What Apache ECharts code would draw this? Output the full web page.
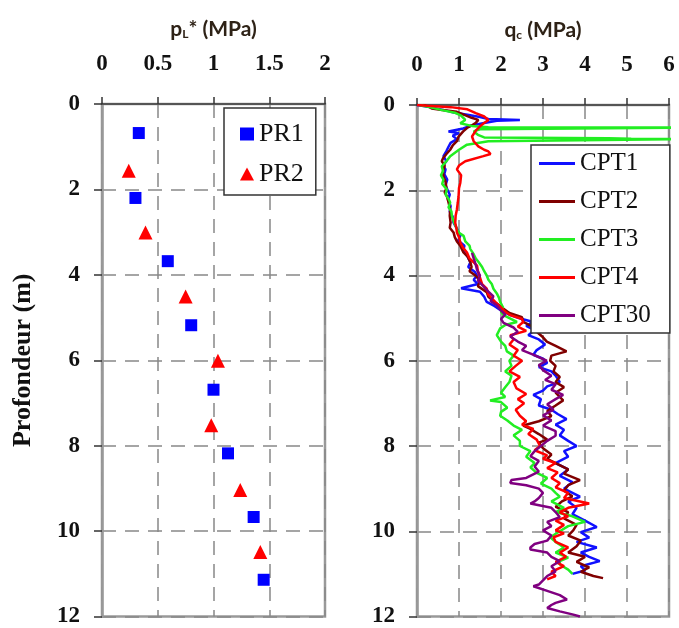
<!DOCTYPE html>
<html><head><meta charset="utf-8">
<script src="https://cdn.jsdelivr.net/npm/echarts@6/dist/echarts.min.js"></script>
<style>html,body{margin:0;padding:0;background:#fff}#c{width:679px;height:628px}</style>
</head><body><div id="c"></div>
<script>
// ---- tick labels ----
const depthTicks = [0, 2, 4, 6, 8, 10, 12];
const plTicks = [0, 0.5, 1, 1.5, 2];
const qcTicks = [0, 1, 2, 3, 4, 5, 6];

// ---- pressuremeter data: [pL* (MPa), depth (m)] ----
const pr1 = [[0.33,0.68],[0.30,2.20],[0.59,3.68],[0.80,5.18],[1.00,6.69],[1.13,8.18],[1.36,9.67],[1.45,11.14]];
const pr2 = [[0.24,1.56],[0.39,3.01],[0.75,4.51],[1.04,6.01],[0.98,7.52],[1.24,9.04],[1.42,10.49]];

// ---- CPT data: [qc (MPa), depth (m)] ----
const cpt1 = [[0.0,0.00],[0.3,0.05],[0.65,0.12],[0.9,0.18],[1.2,0.23],[1.5,0.28],[1.7,0.33],[2.45,0.35],[1.9,0.37],[1.6,0.42],[1.3,0.48],[1.1,0.55],[0.75,0.62],[1.0,0.66],[0.85,0.72],[0.95,0.80],[0.8,0.89],[0.75,0.98],[0.7,1.08],[0.63,1.20],[0.7,1.32],[0.62,1.42],[0.68,1.51],[0.65,1.62],[0.72,1.75],[0.68,1.88],[0.72,1.98],[0.78,2.10],[0.74,2.22],[0.8,2.37],[0.78,2.50],[0.85,2.62],[0.87,2.76],[0.95,2.90],[1.03,3.07],[0.98,3.18],[1.13,3.30],[1.1,3.42],[1.2,3.55],[1.27,3.69],[1.22,3.80],[1.38,3.92],[1.43,4.00],[1.35,4.10],[1.45,4.20],[1.05,4.30],[1.05,4.34],[1.5,4.38],[1.6,4.50],[1.66,4.62],[1.85,4.72],[2.0,4.82],[2.22,4.93],[2.5,5.02],[2.77,5.09],[2.6,5.18],[2.8,5.28],[2.65,5.40],[2.9,5.50],[3.05,5.62],[2.85,5.75],[2.77,5.86],[3.0,5.95],[3.1,6.05],[2.9,6.15],[3.2,6.25],[3.3,6.35],[3.4,6.50],[3.1,6.60],[3.0,6.70],[2.77,6.80],[2.95,6.90],[2.9,7.05],[3.2,7.15],[3.35,7.25],[3.56,7.37],[3.3,7.50],[3.5,7.62],[3.4,7.75],[3.6,7.88],[3.8,8.00],[3.5,8.12],[3.6,8.25],[3.3,8.40],[3.6,8.55],[3.4,8.70],[3.7,8.85],[3.5,9.00],[3.88,9.19],[3.6,9.30],[3.8,9.45],[3.7,9.60],[4.0,9.75],[4.28,9.90],[3.9,10.02],[4.1,10.15],[3.8,10.25],[4.28,10.38],[3.9,10.50],[4.1,10.60],[4.35,10.70],[3.9,10.82],[4.0,10.92],[3.7,11.00]];
const cpt2 = [[0.15,0.00],[0.3,0.05],[0.35,0.08],[0.6,0.12],[0.95,0.16],[1.1,0.22],[1.3,0.30],[1.46,0.35],[1.4,0.42],[1.3,0.48],[1.19,0.54],[1.1,0.62],[0.99,0.74],[0.95,0.85],[0.85,0.95],[0.79,1.05],[0.7,1.15],[0.62,1.25],[0.59,1.32],[0.66,1.42],[0.62,1.55],[0.63,1.67],[0.68,1.80],[0.7,1.95],[0.66,2.05],[0.71,2.14],[0.75,2.28],[0.79,2.45],[0.78,2.60],[0.8,2.76],[0.78,2.88],[0.87,2.99],[0.9,3.10],[0.95,3.20],[1.03,3.30],[1.1,3.45],[1.2,3.55],[1.27,3.69],[1.3,3.80],[1.25,3.90],[1.39,4.00],[1.5,4.12],[1.45,4.25],[1.66,4.39],[1.7,4.50],[1.85,4.62],[2.06,4.78],[2.2,4.88],[2.5,4.98],[2.53,5.09],[2.75,5.20],[2.85,5.32],[3.0,5.45],[3.09,5.55],[3.3,5.65],[3.56,5.78],[3.2,5.88],[3.17,6.00],[3.3,6.12],[3.25,6.25],[3.4,6.38],[3.3,6.50],[3.5,6.62],[3.3,6.75],[3.48,6.93],[3.3,7.05],[3.1,7.18],[3.2,7.30],[2.9,7.42],[2.53,7.52],[2.7,7.60],[2.9,7.72],[3.1,7.85],[2.9,7.92],[3.0,8.05],[3.2,8.20],[3.1,8.30],[3.3,8.40],[3.6,8.55],[3.5,8.65],[3.88,8.80],[3.6,8.92],[3.5,9.05],[3.7,9.18],[3.45,9.30],[3.3,9.43],[3.6,9.55],[3.5,9.70],[3.8,9.85],[3.72,9.98],[3.6,10.10],[3.9,10.22],[3.8,10.35],[3.6,10.50],[4.0,10.60],[3.8,10.72],[4.1,10.85],[3.9,10.95],[4.2,11.05],[4.43,11.10]];
const cpt3 = [[0.05,0.00],[0.3,0.05],[0.6,0.12],[0.9,0.18],[1.05,0.25],[1.15,0.35],[1.03,0.43],[1.3,0.49],[1.7,0.52],[6.3,0.53],[6.3,0.56],[1.5,0.57],[1.35,0.62],[1.45,0.70],[1.6,0.76],[4.55,0.78],[5.1,0.79],[6.3,0.80],[6.3,0.84],[1.7,0.85],[1.19,0.93],[1.0,1.05],[0.79,1.20],[0.7,1.32],[0.59,1.44],[0.62,1.55],[0.57,1.65],[0.63,1.75],[0.6,1.85],[0.71,1.98],[0.68,2.10],[0.75,2.20],[0.79,2.29],[0.75,2.40],[0.82,2.50],[0.83,2.60],[0.88,2.75],[0.95,2.91],[1.0,3.00],[1.11,3.07],[1.15,3.20],[1.25,3.30],[1.27,3.38],[1.35,3.50],[1.4,3.60],[1.47,3.69],[1.55,3.80],[1.6,3.90],[1.66,4.00],[1.7,4.10],[1.78,4.20],[1.82,4.31],[1.9,4.42],[1.95,4.52],[1.98,4.62],[2.05,4.75],[2.0,4.85],[2.06,4.93],[2.2,5.00],[2.38,5.09],[2.1,5.16],[1.98,5.24],[1.94,5.32],[1.9,5.40],[2.0,5.55],[2.1,5.65],[2.14,5.78],[2.3,5.88],[2.2,6.00],[2.25,6.12],[2.1,6.25],[2.25,6.35],[2.2,6.50],[2.1,6.62],[2.0,6.75],[2.1,6.85],[1.74,6.93],[2.0,6.97],[2.15,7.10],[2.0,7.20],[1.98,7.29],[2.15,7.40],[2.3,7.52],[2.5,7.62],[2.3,7.75],[2.45,7.88],[2.45,8.00],[2.7,8.12],[2.6,8.25],[2.8,8.40],[2.7,8.50],[2.85,8.63],[3.1,8.75],[2.95,8.88],[3.2,9.00],[3.3,9.10],[3.4,9.19],[3.2,9.30],[3.5,9.45],[3.3,9.55],[3.7,9.65],[4.0,9.78],[3.6,9.88],[3.4,10.00],[3.17,10.14],[3.3,10.25],[3.5,10.38],[3.3,10.50],[3.6,10.62],[3.4,10.70],[3.4,10.78],[3.6,10.90],[3.7,11.00]];
const cpt4 = [[0.0,0.00],[0.25,0.02],[0.8,0.05],[1.2,0.10],[1.4,0.19],[1.6,0.27],[1.7,0.35],[1.6,0.42],[1.5,0.50],[1.4,0.60],[1.31,0.74],[1.35,0.85],[1.46,0.97],[1.6,1.05],[1.7,1.09],[1.75,1.15],[1.58,1.20],[1.15,1.32],[1.0,1.42],[0.95,1.51],[1.05,1.65],[1.03,1.83],[1.0,1.95],[0.99,2.14],[0.97,2.30],[0.95,2.45],[0.92,2.60],[0.91,2.76],[0.94,2.90],[0.95,2.99],[1.0,3.10],[1.03,3.22],[1.1,3.35],[1.19,3.46],[1.25,3.60],[1.43,3.77],[1.45,3.90],[1.51,4.08],[1.55,4.20],[1.66,4.31],[1.7,4.45],[1.86,4.62],[2.0,4.75],[2.1,4.85],[2.22,4.93],[2.5,5.02],[2.53,5.09],[2.4,5.20],[2.6,5.30],[2.22,5.40],[2.3,5.50],[2.2,5.62],[2.4,5.75],[2.3,5.88],[2.5,6.00],[2.35,6.12],[2.2,6.25],[2.45,6.38],[2.3,6.50],[2.37,6.65],[2.6,6.78],[2.4,6.90],[2.55,7.00],[2.35,7.15],[2.45,7.29],[2.6,7.42],[2.5,7.50],[2.77,7.60],[2.65,7.72],[2.85,7.85],[2.93,8.00],[2.8,8.10],[3.1,8.22],[3.0,8.30],[3.3,8.40],[3.1,8.52],[3.35,8.62],[3.2,8.75],[3.4,8.87],[3.3,8.97],[3.6,9.10],[3.5,9.22],[4.1,9.35],[3.6,9.45],[3.4,9.55],[3.6,9.65],[3.3,9.75],[3.5,9.85],[3.3,9.98],[3.5,10.05],[3.25,10.14],[3.3,10.25],[3.6,10.38],[3.4,10.50],[3.55,10.60],[3.3,10.72],[3.5,10.82],[3.2,10.95],[3.3,11.05],[3.1,11.13]];
const cpt30 = [[1.31,3.47],[1.35,3.60],[1.4,3.75],[1.43,3.87],[1.5,4.00],[1.45,4.12],[1.59,4.26],[1.7,4.38],[1.82,4.49],[1.75,4.60],[1.9,4.70],[1.98,4.80],[2.1,4.92],[2.0,5.02],[2.06,5.11],[2.3,5.22],[2.4,5.32],[2.22,5.43],[2.4,5.55],[2.6,5.65],[2.5,5.75],[2.75,5.85],[3.09,6.00],[2.9,6.10],[3.0,6.22],[3.2,6.35],[3.05,6.45],[3.3,6.55],[3.2,6.68],[3.48,6.80],[3.3,6.90],[3.1,7.02],[3.25,7.15],[3.0,7.28],[3.2,7.40],[3.0,7.52],[3.3,7.65],[3.3,7.76],[3.1,7.88],[2.95,8.00],[2.8,8.12],[2.7,8.24],[2.9,8.35],[2.8,8.48],[2.9,8.60],[2.6,8.75],[2.25,8.80],[2.22,8.87],[2.6,8.92],[2.9,9.00],[3.0,9.10],[2.9,9.22],[2.8,9.30],[2.7,9.35],[3.2,9.45],[3.3,9.55],[3.4,9.67],[3.1,9.78],[3.2,9.88],[3.0,9.98],[3.2,10.10],[3.1,10.22],[2.8,10.30],[2.7,10.38],[2.7,10.43],[3.1,10.50],[3.2,10.60],[3.4,10.70],[3.2,10.82],[3.3,10.94],[3.1,11.05],[3.0,11.15],[2.9,11.25],[2.77,11.29],[2.75,11.33],[3.1,11.40],[3.4,11.50],[3.57,11.60],[3.3,11.68],[3.2,11.73],[3.1,11.80],[3.4,11.88],[3.7,11.95],[3.88,12.00]];

const serif = 'Liberation Serif';
const sans = 'Lato';
const titleColor = '#2e2216';
const tickRich = { t: { fontFamily: serif, fontWeight: 'bold', fontSize: 23, color: '#111' } };

function xAxisCfg(gridIndex, ticks, name) {
  return {
    type: 'value', gridIndex: gridIndex, position: 'top',
    min: ticks[0], max: ticks[ticks.length - 1], interval: ticks[1] - ticks[0],
    name: name, nameLocation: 'middle', nameGap: 64,
    nameTextStyle: { fontFamily: sans, fontWeight: 'bold', fontSize: 21, color: titleColor,
      rich: { s: { fontFamily: sans, fontWeight: 'bold', fontSize: 12, color: titleColor, verticalAlign: 'bottom', padding: [10, 0, 0, 0] } } },
    axisLine: { show: true, lineStyle: { color: '#555', width: 2 } },
    axisTick: { show: true, length: 7, lineStyle: { color: '#333', width: 1.5 } },
    axisLabel: { margin: 28, fontFamily: serif, fontWeight: 'bold', fontSize: 23, color: '#111',
      formatter: v => '{t|' + v + '}', rich: tickRich },
    splitLine: { show: true, lineStyle: { color: '#888', width: 1.5, type: [14, 9] } }
  };
}
function yAxisCfg(gridIndex, name) {
  return {
    type: 'value', gridIndex: gridIndex, inverse: true,
    min: depthTicks[0], max: depthTicks[depthTicks.length - 1], interval: depthTicks[1] - depthTicks[0],
    name: name, nameLocation: 'middle', nameGap: 66, nameRotate: 90,
    nameTextStyle: { fontFamily: serif, fontWeight: 'bold', fontSize: 26, color: '#111' },
    axisLine: { show: true, lineStyle: { color: '#999', width: 2.5 } },
    axisTick: { show: true, length: 8, lineStyle: { color: '#333', width: 1.5 } },
    axisLabel: { margin: 22, fontFamily: serif, fontWeight: 'bold', fontSize: 23, color: '#111',
      formatter: v => '{t|' + v + '}', rich: tickRich },
    splitLine: { show: true, lineStyle: { color: '#888', width: 1.5, type: [14, 9] } }
  };
}

const chart = echarts.init(document.getElementById('c'), null, { renderer: 'canvas' });
const lineSeries = (name, data, color) => ({
  name: name, type: 'line', xAxisIndex: 1, yAxisIndex: 1, data: data,
  symbol: 'none', showSymbol: false, clip: true, animation: false,
  lineStyle: { color: color, width: 2.5 }, itemStyle: { color: color }
});

chart.setOption({
  animation: false,
  backgroundColor: '#fff',
  textStyle: { fontFamily: serif },
  grid: [
    { left: 102, top: 104, width: 223, height: 513, show: true, borderColor: '#999', borderWidth: 2.5, backgroundColor: 'transparent' },
    { left: 417, top: 105, width: 252, height: 512, show: true, borderColor: '#999', borderWidth: 2.5, backgroundColor: 'transparent' }
  ],
  xAxis: [
    xAxisCfg(0, plTicks, 'p{s|L}* (MPa)'),
    xAxisCfg(1, qcTicks, 'q{s|c} (MPa)')
  ],
  yAxis: [
    yAxisCfg(0, 'Profondeur (m)'),
    yAxisCfg(1, '')
  ],
  legend: [
    {
      data: ['PR1', 'PR2'], orient: 'vertical', left: 224, top: 108,
      padding: [13, 12, 8, 16], itemGap: 14, itemWidth: 14, itemHeight: 13,
      borderColor: '#333', borderWidth: 1.5, backgroundColor: '#fff',
      textStyle: { fontFamily: serif, fontSize: 26, color: '#111', lineHeight: 23 }
    },
    {
      data: ['CPT1', 'CPT2', 'CPT3', 'CPT4', 'CPT30'].map(n => ({ name: n, icon: 'rect' })),
      orient: 'vertical', left: 531, top: 145,
      padding: [6, 19, 5, 8], itemGap: 13, itemWidth: 36, itemHeight: 3,
      borderColor: '#333', borderWidth: 1.5, backgroundColor: '#fff',
      textStyle: { fontFamily: serif, fontSize: 25, color: '#111', lineHeight: 22.5 }
    }
  ],
  series: [
    { name: 'PR1', type: 'scatter', xAxisIndex: 0, yAxisIndex: 0, data: pr1, symbol: 'rect', symbolSize: 12, itemStyle: { color: '#0000ff', opacity: 1 } },
    { name: 'PR2', type: 'scatter', xAxisIndex: 0, yAxisIndex: 0, data: pr2, symbol: 'triangle', symbolSize: 14, itemStyle: { color: '#ff0000', opacity: 1 } },
    lineSeries('CPT1', cpt1, '#1010ff'),
    lineSeries('CPT2', cpt2, '#800000'),
    lineSeries('CPT3', cpt3, '#22ee22'),
    lineSeries('CPT4', cpt4, '#ff0000'),
    lineSeries('CPT30', cpt30, '#800080')
  ]
});
</script>
</body></html>
